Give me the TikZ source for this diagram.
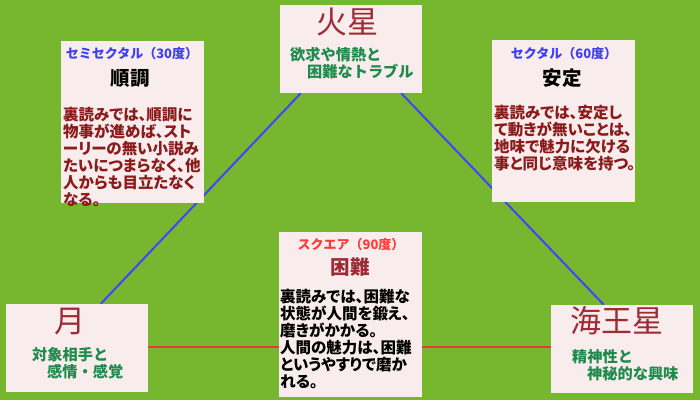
\documentclass[tikz,border=0pt]{standalone}
\usepackage{fontspec}
\usetikzlibrary{backgrounds,calc}
\newfontfamily\jp{Noto Sans CJK JP}
\newfontfamily\jpp[RawFeature=+palt]{Noto Sans CJK JP}
\definecolor{bggreen}{HTML}{77B62F}
\definecolor{boxfill}{HTML}{F8ECEC}
\definecolor{lineblue}{HTML}{4444FF}
\definecolor{linered}{HTML}{E83A3A}
\definecolor{titlered}{HTML}{9E2A36}
\definecolor{txtgreen}{HTML}{1E8A4C}
\definecolor{bodyred}{HTML}{8B1A1A}
\definecolor{headblue}{HTML}{3F3FEF}
\definecolor{headred}{HTML}{FF3A3A}
\tikzset{
  box/.style={fill=boxfill, draw=none, inner sep=0pt},
  planet/.style={font=\jp\fontsize{31}{31}\selectfont, text=titlered, inner sep=0pt},
  greentxt/.style={font=\jp\fontsize{15.2}{17}\selectfont\bfseries, text=txtgreen, align=left, inner sep=0pt, anchor=north west},
  header/.style={font=\jp\fontsize{13}{13}\selectfont\bfseries, inner sep=0pt},
  aspect/.style={font=\jp\fontsize{19.5}{20}\selectfont\bfseries, inner sep=0pt},
  bodytxt/.style={font=\jpp\fontsize{15.5}{17}\selectfont\bfseries, align=left, inner sep=0pt, anchor=north west},
  link/.style={line width=2pt}
}
\begin{document}
\begin{tikzpicture}[x=1pt,y=-1pt]
\useasboundingbox (0,0) rectangle (700,400);
% boxes
\node[box, minimum width=142pt, minimum height=88pt] (mars) at (351,49) {};
\node[box, minimum width=143pt, minimum height=162pt] (semi) at (132.5,122) {};
\node[box, minimum width=143pt, minimum height=162pt] (sext) at (563.5,121) {};
\node[box, minimum width=143pt, minimum height=165pt] (square) at (350.5,314.5) {};
\node[box, minimum width=142pt, minimum height=88pt] (moon) at (77,348) {};
\node[box, minimum width=142pt, minimum height=88pt] (nep) at (622,349) {};
% connectors behind
\begin{scope}[on background layer]
  \fill[bggreen] (0,0) rectangle (700,400);
  \coordinate (ma) at ($(mars.south west)+(21,0)$);
  \coordinate (mb) at ($(mars.south east)+(-21,0)$);
  \coordinate (mo) at ($(moon.north west)+(95,0)$);
  \coordinate (ne) at ($(nep.north west)+(53,0)$);
  \coordinate (re) at ($(moon.east)+(0,-1)$);
  \draw[link, lineblue] (ma) -- (mo);
  \draw[link, lineblue] (mb) -- (ne);
  \draw[link, linered] (re) -- (re -| nep.west);
\end{scope}
% Mars
\node[planet] (marsT) at (347,22) {火星};
\node[greentxt] (marsG) at (290,47) {欲求や情熱と\\\hspace*{17pt}困難なトラブル};
% Moon
\node[planet] (moonT) at (70,322) {月};
\node[greentxt] (moonG) at (32,347) {対象相手と\\\hspace*{15pt}感情・感覚};
% Neptune
\node[planet] (nepT) at (617,321) {海王星};
\node[greentxt] (nepG) at (572,349) {精神性と\\\hspace*{15pt}神秘的な興味};
% Semi-sextile
\node[header, text=headblue] (semiH) at (132,54) {セミセクタル（30度）};
\node[aspect, text=black] (semiA) at (130,78) {順調};
\node[bodytxt, text=bodyred] (semiB) at (63,107) {裏読みでは、順調に\\物事が進めば、スト\\ーリーの無い小説み\\たいにつまらなく、他\\人からも目立たなく\\なる。};
% Sextile
\node[header, text=headblue] (sextH) at (564,54) {セクタル（60度）};
\node[aspect, text=black] (sextA) at (562,78) {安定};
\node[bodytxt, text=bodyred] (sextB) at (494,105) {裏読みでは、安定し\\て動きが無いことは、\\地味で魅力に欠ける\\事と同じ意味を持つ。};
% Square
\node[header, text=headred] (sqH) at (351,245) {スクエア（90度）};
\node[aspect, text=titlered] (sqA) at (350,267) {困難};
\node[bodytxt, text=black] (sqB) at (280,289) {裏読みでは、困難な\\状態が人間を鍛え、\\磨きがかかる。\\人間の魅力は、困難\\というやすりで磨か\\れる。};
\end{tikzpicture}
\end{document}
